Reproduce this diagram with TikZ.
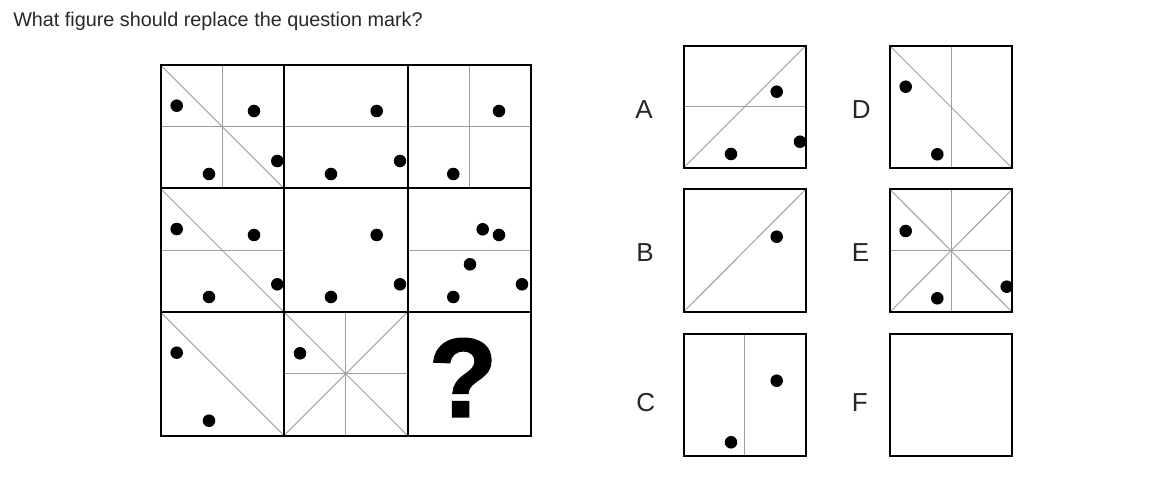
\documentclass[tikz,border=0pt]{standalone}
\usepackage{fontspec}
\setmainfont{Liberation Sans}
\newfontfamily\qmfont[BoldFeatures={FakeBold=1.6}]{Liberation Sans}
\begin{document}
\begin{tikzpicture}[x=0.75pt,y=-0.75pt,
  frame/.style={draw=black, line width=1.5pt},
  guide/.style={draw=black!38, line width=0.75pt},
  dotm/.style={fill=black},
  lbl/.style={font=\fontsize{19.5}{22}\selectfont, text=black!85, inner sep=0pt, anchor=west}]
\useasboundingbox (0,0) rectangle (1167,481);
\fill[white] (0,0) rectangle (1167,481);
% title
\node[anchor=base west, inner sep=0pt, font=\fontsize{14.85}{17}\selectfont, text={rgb,255:red,40;green,40;blue,40}] (title) at (13,26.5) {What figure should replace the question mark?};
% ---------- grid guides ----------
% row 1
\draw[guide] (160.5,65) -- (284,188.5);
\draw[guide] (222.25,65) -- (222.25,188.5);
\draw[guide] (160.5,126.75) -- (284,126.75);
\draw[guide] (284,126.75) -- (407.5,126.75);
\draw[guide] (469.25,65) -- (469.25,188.5);
\draw[guide] (407.5,126.75) -- (531,126.75);
% row 2
\draw[guide] (160.5,188.5) -- (284,312);
\draw[guide] (160.5,250.25) -- (284,250.25);
\draw[guide] (407.5,250.25) -- (531,250.25);
% row 3
\draw[guide] (160.5,312) -- (284,435.5);
\draw[guide] (284,312) -- (407.5,435.5);
\draw[guide] (284,435.5) -- (407.5,312);
\draw[guide] (345.75,312) -- (345.75,435.5);
\draw[guide] (284,373.75) -- (407.5,373.75);
% grid frame
\draw[frame] (160.5,65) rectangle (531,435.5);
\draw[frame] (284,65) -- (284,435.5);
\draw[frame] (407.5,65) -- (407.5,435.5);
\draw[frame] (160.5,188.5) -- (531,188.5);
\draw[frame] (160.5,312) -- (531,312);
% dots row 1
\foreach \p in {(176.7,105.7),(254,111),(209,174),(277.3,161),
                (376.7,111),(331,174),(400,161),
                (499,111),(453.3,174)}
  \fill[dotm] \p circle[radius=4.7pt];
% dots row 2
\foreach \p in {(176.7,229),(254,235),(209,297),(277.3,284.3),
                (376.7,235),(331,297),(400,284.3),
                (482.7,229.3),(499,235),(470,264.3),(522,284.3),(453.3,297)}
  \fill[dotm] \p circle[radius=4.7pt];
% dots row 3
\foreach \p in {(176.7,352.7),(209,420.7),(300,353.3)}
  \fill[dotm] \p circle[radius=4.7pt];
% question mark
\node[font=\fontsize{84}{90}\selectfont\qmfont\bfseries, inner sep=0pt] (q) at (463,377.5) {?};
% ---------- options ----------
% A
\draw[guide] (683.5,168) -- (805.5,46);
\draw[guide] (683.5,107) -- (805.5,107);
\draw[frame] (683.5,46) rectangle (805.5,168);
\foreach \p in {(776.7,91.7),(731,154),(800,141.7)}
  \fill[dotm] \p circle[radius=4.7pt];
% D
\draw[guide] (890,46) -- (1012,168);
\draw[guide] (951,46) -- (951,168);
\draw[frame] (890,46) rectangle (1012,168);
\foreach \p in {(905.7,86.7),(937.3,154.3)}
  \fill[dotm] \p circle[radius=4.7pt];
% B
\draw[guide] (683.5,312) -- (805.5,189.5);
\draw[frame] (683.5,189.5) rectangle (805.5,312);
\fill[dotm] (776.7,236.7) circle[radius=4.7pt];
% E
\draw[guide] (890,189.5) -- (1012,312);
\draw[guide] (890,312) -- (1012,189.5);
\draw[guide] (951,189.5) -- (951,312);
\draw[guide] (890,250.75) -- (1012,250.75);
\draw[frame] (890,189.5) rectangle (1012,312);
\foreach \p in {(905.7,231),(937.3,298.3),(1006.7,286.7)}
  \fill[dotm] \p circle[radius=4.7pt];
% C
\draw[guide] (744.5,333.5) -- (744.5,456);
\draw[frame] (683.5,333.5) rectangle (805.5,456);
\foreach \p in {(776.7,380.7),(731,442.3)}
  \fill[dotm] \p circle[radius=4.7pt];
% F
\draw[frame] (890,333.5) rectangle (1012,456);
% labels
\node[lbl] (la) at (635,109.5) {A};
\node[lbl] (lb) at (636,252.5) {B};
\node[lbl] (lc) at (636,402.5) {C};
\node[lbl] (ld) at (851.5,109.5) {D};
\node[lbl] (le) at (851.5,252.5) {E};
\node[lbl] (lf) at (851.5,402.5) {F};
\end{tikzpicture}
\end{document}
